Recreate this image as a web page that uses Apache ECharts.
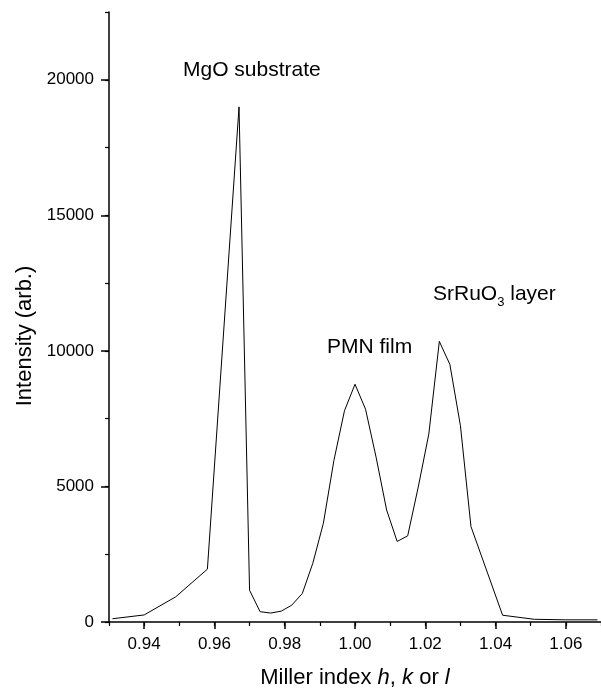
<!DOCTYPE html>
<html>
<head>
<meta charset="utf-8">
<script src="https://cdn.jsdelivr.net/npm/echarts@6/dist/echarts.min.js"></script>
<style>
html,body{margin:0;padding:0;background:#fff;}
#chart{width:601px;height:694px;}
</style>
</head>
<body>
<div id="chart"></div>
<script>
// Data
const millerIndex = [0.931, 0.940, 0.949, 0.958, 0.967, 0.970, 0.973, 0.976, 0.979, 0.982, 0.985, 0.988, 0.991, 0.994, 0.997, 1.000, 1.003, 1.006, 1.009, 1.012, 1.015, 1.018, 1.021, 1.024, 1.027, 1.030, 1.033, 1.042, 1.051, 1.060, 1.069];
const intensity = [120, 260, 930, 1950, 19000, 1170, 380, 330, 400, 620, 1050, 2170, 3640, 5960, 7790, 8770, 7850, 6080, 4130, 2970, 3180, 4980, 6930, 10350, 9500, 7240, 3520, 250, 100, 80, 80];
const xMajorTicks = [0.94, 0.96, 0.98, 1.00, 1.02, 1.04, 1.06];
const yMajorTicks = [0, 5000, 10000, 15000, 20000];
const annotations = ['MgO substrate', 'PMN film', 'SrRuO{s|3} layer'];

const FONT = "'Liberation Sans', Arial, Helvetica, sans-serif";
const chart = echarts.init(document.getElementById('chart'), null, {renderer: 'canvas'});
const lineData = millerIndex.map((x, i) => [x, intensity[i]]);

const axisLineStyle = {color: '#000', width: 1.5};
chart.setOption({
  animation: false,
  backgroundColor: '#fff',
  grid: {left: 109, right: -5, top: 12, bottom: 68, containLabel: false},
  xAxis: [
    {
      type: 'value', min: 0.93, max: 1.07, interval: 0.01, position: 'bottom',
      axisLine: {show: true, lineStyle: axisLineStyle, onZero: false},
      axisTick: {show: true, length: 7, customValues: xMajorTicks, lineStyle: {color: '#000', width: 1.5}},
      axisLabel: {show: true, customValues: xMajorTicks, margin: 14, color: '#000', fontSize: 17, fontFamily: FONT,
        formatter: v => v.toFixed(2)},
      splitLine: {show: false},
      name: 'Miller index {i|h}, {i|k} or {i|l}',
      nameLocation: 'middle', nameGap: 45,
      nameTextStyle: {color: '#000', fontSize: 22, fontFamily: FONT,
        rich: {i: {fontStyle: 'italic', fontSize: 22, fontFamily: FONT, color: '#000'}}}
    },
    {
      type: 'value', min: 0.93, max: 1.07, interval: 0.01, position: 'bottom',
      axisLine: {show: false},
      axisTick: {show: true, length: 4, lineStyle: {color: '#000', width: 1.2}},
      axisLabel: {show: false},
      splitLine: {show: false}
    }
  ],
  yAxis: [
    {
      type: 'value', min: 0, max: 22500, interval: 2500, position: 'left',
      axisLine: {show: true, lineStyle: axisLineStyle, onZero: false},
      axisTick: {show: true, length: 8, customValues: yMajorTicks, lineStyle: {color: '#000', width: 1.5}},
      axisLabel: {show: true, customValues: yMajorTicks, margin: 15, color: '#000', fontSize: 17, fontFamily: FONT,
        formatter: v => String(v)},
      splitLine: {show: false},
      name: 'Intensity (arb.)', nameLocation: 'middle', nameGap: 73,
      nameTextStyle: {color: '#000', fontSize: 22, fontFamily: FONT, padding: [0, 38, 0, 0]}
    },
    {
      type: 'value', min: 0, max: 22500, interval: 2500, position: 'left',
      axisLine: {show: false},
      axisTick: {show: true, length: 4, lineStyle: {color: '#000', width: 1.2}},
      axisLabel: {show: false},
      splitLine: {show: false}
    }
  ],
  series: [{
    type: 'line', xAxisIndex: 0, yAxisIndex: 0,
    data: lineData, showSymbol: false, symbol: 'none', smooth: false,
    lineStyle: {color: '#000', width: 1}, clip: true
  }],
  graphic: [
    {type: 'text', x: 183, y: 70, style: {text: annotations[0], font: '21px ' + FONT, fill: '#000', verticalAlign: 'middle', align: 'left'}},
    {type: 'text', x: 327, y: 347, style: {text: annotations[1], font: '21px ' + FONT, fill: '#000', verticalAlign: 'middle', align: 'left'}},
    {type: 'text', x: 433, y: 294, style: {text: annotations[2], fontSize: 21, fontFamily: FONT, fill: '#000', verticalAlign: 'middle', align: 'left',
      lineHeight: 30,
      rich: {s: {fontSize: 13, fontFamily: FONT, fill: '#000', verticalAlign: 'bottom', lineHeight: 13}}}}
  ]
});
</script>
</body>
</html>
